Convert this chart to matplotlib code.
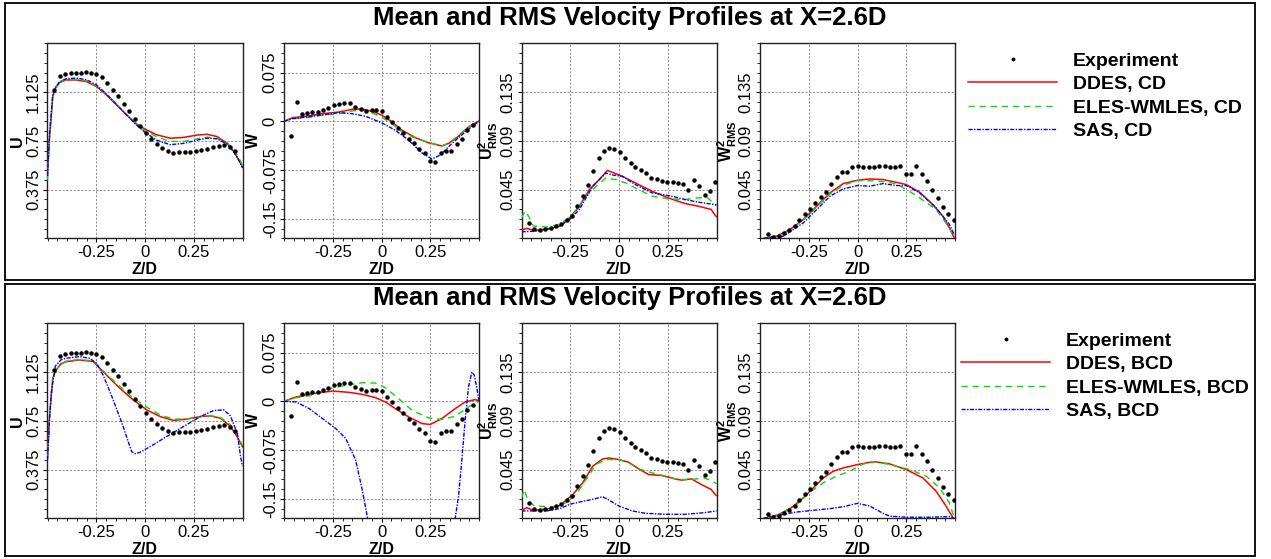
import matplotlib
matplotlib.use("Agg")
import matplotlib.pyplot as plt
from matplotlib.lines import Line2D
from matplotlib.patches import Rectangle
from matplotlib.ticker import MultipleLocator

plt.rcParams["font.family"] = ["Liberation Sans", "DejaVu Sans"]
plt.rcParams["mathtext.fontset"] = "custom"
plt.rcParams["mathtext.rm"] = "Liberation Sans"
plt.rcParams["mathtext.bf"] = "Liberation Sans:bold"

title = "Mean and RMS Velocity Profiles at X=2.6D"

# ---------------- experiment (same in both rows) ----------------
z_exp_u = [-0.469, -0.438, -0.409, -0.381, -0.356, -0.330, -0.304, -0.278, -0.253, -0.223, -0.194, -0.165,
           -0.137, -0.108, -0.081, -0.052, -0.026, 0.003, 0.031, 0.060, 0.089, 0.117, 0.146, 0.175, 0.203,
           0.232, 0.261, 0.289, 0.318, 0.347, 0.378, 0.407, 0.435, 0.464]
u_exp = [1.142, 1.249, 1.262, 1.270, 1.275, 1.275, 1.278, 1.27, 1.262, 1.237, 1.193, 1.142, 1.091, 1.035,
         0.976, 0.917, 0.860, 0.809, 0.763, 0.724, 0.694, 0.668, 0.655, 0.660, 0.665, 0.665, 0.670, 0.678,
         0.688, 0.701, 0.711, 0.716, 0.706, 0.675]

z_exp_w = [-0.464, -0.435, -0.41, -0.383, -0.354, -0.328, -0.298, -0.272, -0.243, -0.218, -0.19, -0.163,
           -0.136, -0.107, -0.082, -0.051, -0.026, 0.0, 0.029, 0.054, 0.083, 0.111, 0.139, 0.167, 0.194,
           0.221, 0.247, 0.276, 0.303, 0.33, 0.357, 0.386, 0.412, 0.44, 0.468]
w_exp = [-0.023, 0.0296, 0.0117, 0.0128, 0.0138, 0.0138, 0.0179, 0.0204, 0.0245, 0.026, 0.0275, 0.0286,
         0.022, 0.0184, 0.0153, 0.0168, 0.0179, 0.0158, 0.0066, -0.0015, -0.0102, -0.0179, -0.0275, -0.034,
         -0.042, -0.0485, -0.0607, -0.0622, -0.0485, -0.0454, -0.046, -0.0352, -0.0265, -0.0128, -0.0061]

z_exp_uu = [-0.459, -0.434, -0.405, -0.377, -0.35, -0.321, -0.296, -0.267, -0.242, -0.215, -0.186, -0.16,
            -0.132, -0.105, -0.079, -0.051, -0.025, 0.003, 0.03, 0.059, 0.084, 0.113, 0.139, 0.166, 0.194,
            0.22, 0.248, 0.275, 0.30, 0.329, 0.355, 0.383, 0.41, 0.439, 0.465, 0.49]
uu_exp = [0.0144, 0.0083, 0.0074, 0.0083, 0.0092, 0.0113, 0.0129, 0.0168, 0.0205, 0.0297, 0.0389, 0.0496,
          0.0618, 0.074, 0.0802, 0.0833, 0.0826, 0.0796, 0.074, 0.0695, 0.0658, 0.0627, 0.0603, 0.0557,
          0.0551, 0.0527, 0.0517, 0.0517, 0.0511, 0.0505, 0.045, 0.0536, 0.0487, 0.0404, 0.0435, 0.052]

z_exp_ww = [-0.461, -0.434, -0.405, -0.376, -0.35, -0.323, -0.298, -0.269, -0.243, -0.218, -0.189, -0.162,
            -0.136, -0.107, -0.078, -0.053, -0.026, 0.003, 0.029, 0.058, 0.083, 0.11, 0.139, 0.168, 0.194,
            0.219, 0.247, 0.276, 0.301, 0.33, 0.357, 0.383, 0.412, 0.44, 0.466, 0.493]
ww_exp = [0.0037, 0.0016, 0.0022, 0.0046, 0.0074, 0.0113, 0.0168, 0.0227, 0.0272, 0.0328, 0.0383, 0.0429,
          0.0502, 0.0563, 0.0609, 0.0609, 0.0655, 0.0664, 0.0658, 0.0655, 0.0655, 0.0664, 0.067, 0.0655,
          0.0655, 0.0664, 0.0597, 0.0597, 0.067, 0.0597, 0.0527, 0.045, 0.0373, 0.0288, 0.022, 0.0165]

# ---------------- CD (top row) ----------------
z_u_ddes_cd = [-0.5, -0.49, -0.473, -0.459, -0.438, -0.404, -0.352, -0.30, -0.249, -0.198, -0.146, -0.095,
               -0.043, 0.0, 0.06, 0.129, 0.198, 0.266, 0.318, 0.369, 0.421, 0.455, 0.481, 0.5]
u_ddes_cd = [0.50, 0.76, 1.09, 1.154, 1.198, 1.218, 1.218, 1.205, 1.167, 1.103, 1.026, 0.95, 0.88, 0.84,
             0.796, 0.77, 0.776, 0.794, 0.80, 0.783, 0.732, 0.668, 0.604, 0.55]
u_eles_cd = [0.45, 0.78, 1.10, 1.16, 1.20, 1.22, 1.222, 1.21, 1.17, 1.11, 1.03, 0.95, 0.875, 0.83, 0.78,
             0.745, 0.745, 0.765, 0.778, 0.77, 0.735, 0.68, 0.62, 0.56]
u_sas_cd = [0.48, 0.80, 1.10, 1.16, 1.205, 1.228, 1.232, 1.22, 1.18, 1.11, 1.03, 0.95, 0.87, 0.815, 0.755,
            0.72, 0.73, 0.755, 0.77, 0.765, 0.725, 0.665, 0.60, 0.54]

z_w_cd = [-0.5, -0.456, -0.388, -0.303, -0.218, -0.15, -0.099, -0.048, 0.003, 0.054, 0.105, 0.173, 0.241,
          0.31, 0.344, 0.395, 0.446, 0.5]
w_ddes_cd = [0, 0.0056, 0.0077, 0.0117, 0.0143, 0.0184, 0.0189, 0.0153, 0.0092, -0.001, -0.0138, -0.025,
             -0.033, -0.038, -0.034, -0.023, -0.0087, 0.0005]
w_eles_cd = [0, 0.004, 0.0056, 0.0095, 0.0117, 0.016, 0.0168, 0.0128, 0.006, -0.004, -0.016, -0.026,
             -0.0326, -0.0377, -0.034, -0.0214, -0.009, 0]
z_w_sas_cd = [-0.5, -0.456, -0.354, -0.218, -0.15, -0.082, 0.003, 0.071, 0.139, 0.207, 0.259, 0.301,
              0.361, 0.412, 0.455, 0.5]
w_sas_cd = [0, 0.004, 0.0077, 0.0133, 0.0117, 0.0077, -0.0026, -0.0138, -0.029, -0.0485, -0.058, -0.052,
            -0.034, -0.021, -0.01, 0]

z_uu_ddes_cd = [-0.5, -0.473, -0.439, -0.372, -0.304, -0.253, -0.203, -0.152, -0.101, -0.059, -0.034,
                0.017, 0.084, 0.169, 0.253, 0.338, 0.405, 0.473, 0.49, 0.5]
uu_ddes_cd = [0.0075, 0.0092, 0.0074, 0.0083, 0.0113, 0.019, 0.0297, 0.045, 0.0542, 0.0627, 0.0609,
              0.0572, 0.0511, 0.0435, 0.0373, 0.0321, 0.0297, 0.0266, 0.022, 0.02]
z_uu_eles_cd = [-0.5, -0.481, -0.464, -0.439, -0.372, -0.304, -0.236, -0.169, -0.118, -0.068, -0.017,
                0.034, 0.101, 0.169, 0.253, 0.338, 0.405, 0.456, 0.49, 0.5]
uu_eles_cd = [0.019, 0.0251, 0.0205, 0.0113, 0.0104, 0.0129, 0.022, 0.0389, 0.048, 0.0557, 0.0542,
              0.0511, 0.045, 0.0389, 0.0364, 0.0358, 0.0373, 0.0373, 0.0312, 0.03]
z_uu_sas_cd = [-0.5, -0.405, -0.304, -0.253, -0.203, -0.135, -0.068, -0.034, 0.017, 0.084, 0.169, 0.27,
               0.338, 0.405, 0.49, 0.5]
uu_sas_cd = [0.006, 0.0068, 0.0113, 0.0175, 0.0266, 0.048, 0.0603, 0.0585, 0.0572, 0.0496, 0.042, 0.0389,
             0.0358, 0.0334, 0.0312, 0.031]

z_ww_ddes_cd = [-0.48, -0.413, -0.345, -0.277, -0.209, -0.141, -0.073, 0.0, 0.063, 0.131, 0.199, 0.25,
                0.318, 0.386, 0.437, 0.471, 0.497]
ww_ddes_cd = [0, 0.0022, 0.0083, 0.0175, 0.0297, 0.0419, 0.0505, 0.0536, 0.0548, 0.0542, 0.0517, 0.0496,
              0.0426, 0.0312, 0.0205, 0.0098, 0]
z_ww_eles_cd = [-0.48, -0.413, -0.345, -0.277, -0.209, -0.141, -0.073, 0.0, 0.097, 0.199, 0.301, 0.403,
                0.471, 0.485]
ww_eles_cd = [0, 0.002, 0.0078, 0.017, 0.029, 0.041, 0.049, 0.0533, 0.053, 0.0505, 0.0395, 0.0266,
              0.0098, 0.005]
z_ww_sas_cd = [-0.48, -0.379, -0.277, -0.209, -0.141, -0.073, 0.0, 0.063, 0.131, 0.199, 0.25, 0.318,
               0.403, 0.471, 0.497]
ww_sas_cd = [0, 0.002, 0.0144, 0.0266, 0.0389, 0.0456, 0.0487, 0.0481, 0.0505, 0.0487, 0.0487, 0.042,
             0.0282, 0.0129, 0.003]

# ---------------- BCD (bottom row) ----------------
z_u_bcd = [-0.5, -0.49, -0.473, -0.455, -0.43, -0.40, -0.335, -0.266, -0.198, -0.129, -0.06, 0.009, 0.077,
           0.146, 0.215, 0.284, 0.335, 0.387, 0.438, 0.472, 0.5]
u_ddes_bcd = [0.48, 0.78, 1.08, 1.142, 1.19, 1.206, 1.218, 1.206, 1.103, 1.0, 0.91, 0.834, 0.783, 0.753,
              0.763, 0.783, 0.788, 0.77, 0.706, 0.63, 0.55]
u_eles_bcd = [0.45, 0.76, 1.07, 1.14, 1.19, 1.21, 1.222, 1.21, 1.11, 1.015, 0.925, 0.855, 0.796, 0.763,
              0.765, 0.783, 0.79, 0.775, 0.72, 0.645, 0.56]
z_u_sas_bcd = [-0.5, -0.49, -0.481, -0.46, -0.43, -0.404, -0.335, -0.284, -0.249, -0.215, -0.163, -0.112,
               -0.069, -0.052, -0.026, 0.043, 0.112, 0.198, 0.284, 0.352, 0.404, 0.438, 0.473, 0.49, 0.5]
u_sas_bcd = [0.45, 0.75, 0.962, 1.17, 1.22, 1.231, 1.244, 1.231, 1.193, 1.103, 0.911, 0.706, 0.514, 0.497,
             0.507, 0.566, 0.63, 0.706, 0.783, 0.829, 0.834, 0.788, 0.655, 0.476, 0.40]

z_w_ddes_bcd = [-0.5, -0.439, -0.354, -0.252, -0.167, -0.099, -0.031, 0.02, 0.071, 0.139, 0.207, 0.25,
                0.31, 0.378, 0.429, 0.48, 0.5]
w_ddes_bcd = [0, 0.0066, 0.0117, 0.0158, 0.0138, 0.0107, 0.0056, -0.001, -0.0112, -0.024, -0.0342,
              -0.0357, -0.0265, -0.0112, -0.001, 0.0026, 0.0005]
z_w_eles_bcd = [-0.5, -0.439, -0.354, -0.269, -0.184, -0.099, -0.031, 0.02, 0.088, 0.156, 0.241, 0.31,
                0.378, 0.446, 0.5]
w_eles_bcd = [0, 0.0056, 0.0092, 0.0194, 0.0245, 0.0286, 0.028, 0.0209, 0.0041, -0.0138, -0.0255, -0.028,
              -0.023, -0.0087, 0]
z_w_sas_bcd = [-0.5, -0.439, -0.371, -0.303, -0.235, -0.184, -0.133, -0.099, -0.078, -0.06, 0.05, 0.2,
               0.36, 0.378, 0.395, 0.412, 0.429, 0.446, 0.463, 0.476, 0.488, 0.5]
w_sas_bcd = [0, -0.001, -0.0112, -0.0265, -0.0418, -0.057, -0.09, -0.136, -0.169, -0.2, -0.32, -0.35,
             -0.22, -0.18, -0.146, -0.09, -0.029, 0.022, 0.045, 0.04, 0.022, 0]

z_uu_ddes_bcd = [-0.5, -0.473, -0.439, -0.372, -0.304, -0.236, -0.186, -0.135, -0.084, -0.051, 0.0, 0.051,
                 0.101, 0.152, 0.22, 0.287, 0.321, 0.372, 0.422, 0.473, 0.493, 0.5]
uu_ddes_bcd = [0.0075, 0.0098, 0.0074, 0.0083, 0.0119, 0.022, 0.0328, 0.048, 0.0548, 0.0557, 0.0542,
               0.0517, 0.0456, 0.0404, 0.0395, 0.0364, 0.0352, 0.0364, 0.0312, 0.0266, 0.022, 0.021]
z_uu_eles_bcd = [-0.5, -0.486, -0.469, -0.435, -0.338, -0.27, -0.22, -0.169, -0.118, -0.068, 0.0, 0.051,
                 0.101, 0.169, 0.236, 0.304, 0.372, 0.439, 0.493, 0.5]
uu_eles_bcd = [0.019, 0.0266, 0.0175, 0.0113, 0.0107, 0.0144, 0.022, 0.0358, 0.0496, 0.0542, 0.0542,
               0.0511, 0.0456, 0.042, 0.0389, 0.0358, 0.0358, 0.0373, 0.0328, 0.032]
z_uu_sas_bcd = [-0.5, -0.372, -0.304, -0.253, -0.203, -0.135, -0.084, -0.051, 0.0, 0.068, 0.135, 0.236,
                0.338, 0.439, 0.5]
uu_sas_bcd = [0.0068, 0.0068, 0.0089, 0.0129, 0.015, 0.0175, 0.0199, 0.0168, 0.0113, 0.0068, 0.0046,
              0.0037, 0.0037, 0.0052, 0.0068]

z_ww_ddes_bcd = [-0.48, -0.413, -0.345, -0.277, -0.226, -0.175, -0.124, -0.073, 0.0, 0.063, 0.097, 0.165,
                 0.25, 0.335, 0.403, 0.454, 0.488]
ww_ddes_bcd = [0, 0.0028, 0.0089, 0.019, 0.0282, 0.0373, 0.0435, 0.0465, 0.0496, 0.0517, 0.052, 0.0502,
               0.045, 0.0373, 0.025, 0.0113, 0.001]
z_ww_eles_bcd = [-0.48, -0.413, -0.311, -0.243, -0.175, -0.107, -0.039, 0.029, 0.097, 0.165, 0.267,
                 0.352, 0.42, 0.471, 0.491]
ww_eles_bcd = [0, 0.0025, 0.0129, 0.0242, 0.0328, 0.0389, 0.0435, 0.0502, 0.052, 0.0496, 0.045, 0.0389,
               0.0282, 0.0144, 0.003]
z_ww_sas_bcd = [-0.48, -0.379, -0.311, -0.209, -0.141, -0.073, 0.0, 0.063, 0.131, 0.165, 0.25, 0.37,
                0.471, 0.497]
ww_sas_bcd = [0, 0.0037, 0.0058, 0.0077, 0.0089, 0.0107, 0.0138, 0.0113, 0.0046, 0.002, 0.001, 0.001,
              0.0015, 0]

# panel settings: ylabel, ylim, major ticks, tick labels, minor step
ylabels = ["U", "W", r"$\mathbf{U^{2}_{RMS}}$", r"$\mathbf{W^{2}_{RMS}}$"]
ylims = [(0, 1.5), (-0.18, 0.12), (0, 0.18), (0, 0.18)]
yticks = [[0.375, 0.75, 1.125], [-0.15, -0.075, 0, 0.075], [0.045, 0.09, 0.135], [0.045, 0.09, 0.135]]
yticklabels = [["0.375", "0.75", "1.125"], ["-0.15", "-0.075", "0", "0.075"],
               ["0.045", "0.09", "0.135"], ["0.045", "0.09", "0.135"]]
yminor = [0.075, 0.015, 0.009, 0.009]
ylabelpad = [1, 1, 0, 0]

red = "#ff0000"
green = "#00dd00"
blue = "#0000ff"

W, H = 1271, 559
fig = plt.figure(figsize=(W / 100, H / 100), dpi=100)

lefts = [47.5, 284, 521.5, 760]
tops = [43.3, 323.3]


def draw_row(row, sims):
    for i in range(4):
        ax = fig.add_axes([lefts[i] / W, (H - tops[row] - 195) / H, 195 / W, 195 / H])
        exp_z, exp_v = [(z_exp_u, u_exp), (z_exp_w, w_exp), (z_exp_uu, uu_exp), (z_exp_ww, ww_exp)][i]
        ax.plot(exp_z, exp_v, ls="none", marker="o", ms=2.2, color="black", zorder=4)
        (zd, vd), (ze, ve), (zs, vs) = sims[i]
        ax.plot(zd, vd, color=red, lw=1.1, zorder=3)
        ax.plot(ze, ve, color=green, lw=1.0, dashes=(4.5, 3.5), zorder=3)
        ax.plot(zs, vs, color=blue, lw=1.0, dashes=(3, 1, 1, 1), zorder=3)
        ax.set_xlim(-0.5, 0.5)
        ax.set_ylim(*ylims[i])
        ax.set_xticks([-0.25, 0, 0.25])
        ax.set_xticklabels(["-0.25", "0", "0.25"])
        ax.xaxis.set_minor_locator(MultipleLocator(0.05))
        ax.set_yticks(yticks[i])
        ax.set_yticklabels(yticklabels[i], rotation=90, va="center")
        ax.yaxis.set_minor_locator(MultipleLocator(yminor[i]))
        ax.tick_params(which="major", direction="out", length=3, width=0.8, pad=1.5, labelsize=12)
        ax.tick_params(which="minor", direction="out", length=2, width=0.6)
        ax.grid(True, which="major", color="#7a7a7a", lw=0.6, ls=(0, (2.5, 2)))
        for s in ax.spines.values():
            s.set_linewidth(1.0)
            s.set_color("#222222")
        ax.set_xlabel("Z/D", fontsize=11.5, fontweight="bold", labelpad=2)
        ax.set_ylabel(ylabels[i], fontsize=11.5, fontweight="bold", labelpad=ylabelpad[i])


sims_cd = [
    ((z_u_ddes_cd, u_ddes_cd), (z_u_ddes_cd, u_eles_cd), (z_u_ddes_cd, u_sas_cd)),
    ((z_w_cd, w_ddes_cd), (z_w_cd, w_eles_cd), (z_w_sas_cd, w_sas_cd)),
    ((z_uu_ddes_cd, uu_ddes_cd), (z_uu_eles_cd, uu_eles_cd), (z_uu_sas_cd, uu_sas_cd)),
    ((z_ww_ddes_cd, ww_ddes_cd), (z_ww_eles_cd, ww_eles_cd), (z_ww_sas_cd, ww_sas_cd)),
]
sims_bcd = [
    ((z_u_bcd, u_ddes_bcd), (z_u_bcd, u_eles_bcd), (z_u_sas_bcd, u_sas_bcd)),
    ((z_w_ddes_bcd, w_ddes_bcd), (z_w_eles_bcd, w_eles_bcd), (z_w_sas_bcd, w_sas_bcd)),
    ((z_uu_ddes_bcd, uu_ddes_bcd), (z_uu_eles_bcd, uu_eles_bcd), (z_uu_sas_bcd, uu_sas_bcd)),
    ((z_ww_ddes_bcd, ww_ddes_bcd), (z_ww_eles_bcd, ww_eles_bcd), (z_ww_sas_bcd, ww_sas_bcd)),
]

draw_row(0, sims_cd)
draw_row(1, sims_bcd)

# outer boxes and titles
for y0, y1 in [(3, 279.5), (283.5, 556)]:
    fig.add_artist(Rectangle((5 / W, (H - y1) / H), 1250 / W, (y1 - y0) / H, transform=fig.transFigure,
                             fill=False, lw=1.3, edgecolor="black"))
fig.text(630 / W, (H - 18) / H, title, ha="center", va="center", fontsize=18.5, fontweight="bold")
fig.text(630 / W, (H - 298) / H, title, ha="center", va="center", fontsize=18.5, fontweight="bold")

# legends
for x0, ytop, suffix in [(968, 52, "CD"), (961, 332, "BCD")]:
    handles = [
        Line2D([], [], ls="none", marker="o", ms=1.8, color="black"),
        Line2D([], [], color=red, lw=1.1),
        Line2D([], [], color=green, lw=1.0, dashes=(4.5, 3.5)),
        Line2D([], [], color=blue, lw=1.0, dashes=(3, 1, 1, 1)),
    ]
    labels = ["Experiment", "DDES, " + suffix, "ELES-WMLES, " + suffix, "SAS, " + suffix]
    fig.legend(handles, labels, loc="upper left", bbox_to_anchor=(x0 / W, (H - ytop) / H),
               frameon=False, borderpad=0, borderaxespad=0, handlelength=4.6, handletextpad=0.8,
               labelspacing=0.3, numpoints=1, prop={"size": 14, "weight": "bold"})

fig.savefig("out.png", dpi=100)
